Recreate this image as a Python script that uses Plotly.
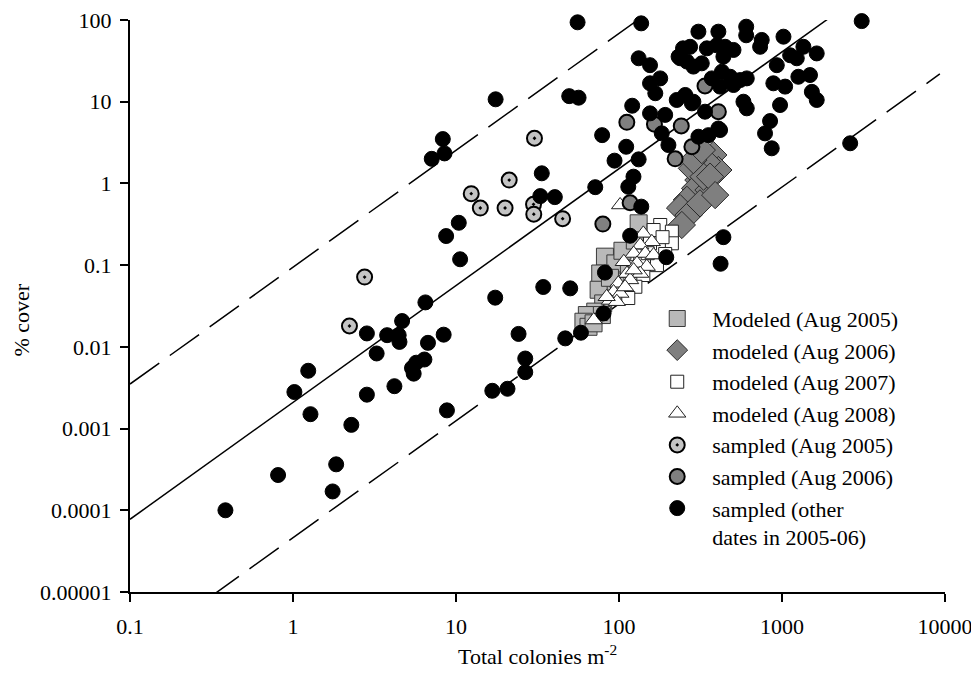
import numpy as np
import plotly.graph_objects as go

# ---------------- data ----------------
mod05_x = [132, 82, 95, 76.7, 95, 75, 80, 71.5, 63.5, 78.5, 60.5, 65, 69.8, 105, 115, 125, 88, 100]
mod05_y = [0.325, 0.127, 0.105, 0.079, 0.063, 0.05, 0.034, 0.027, 0.0245, 0.0245, 0.0203, 0.0176,
           0.0194, 0.15, 0.09, 0.2, 0.07, 0.045]

mod06_x = [379, 407, 346, 307, 280, 293, 354, 261, 237, 267, 243, 314, 330, 286, 362, 322, 389]
mod06_y = [2.23, 1.46, 1.85, 1.1, 1.53, 0.87, 0.83, 0.63, 0.50, 0.41, 0.31, 0.57, 1.21, 1.93, 1.21,
           2.56, 0.72]

mod07_x = [179, 211, 163, 211, 192, 171, 141, 126, 114, 155, 135, 185, 150]
mod07_y = [0.31, 0.257, 0.269, 0.185, 0.137, 0.1, 0.0757, 0.0544, 0.0396, 0.185, 0.109, 0.22, 0.14]

mod08_x = [141, 159, 135, 123, 145, 163, 107, 129, 148, 112, 135, 99, 117, 92.6, 102, 88, 97, 75,
           70, 84, 123, 109, 101.6]
mod08_y = [0.245, 0.193, 0.176, 0.139, 0.139, 0.133, 0.110, 0.105, 0.096, 0.079, 0.079, 0.06, 0.066,
           0.047, 0.045, 0.037, 0.0357, 0.0233, 0.0213, 0.041, 0.087, 0.054, 0.545]

samp05_x = [2.22, 2.75, 12.4, 14.1, 20.0, 21.2, 29.9, 30.0, 30.3, 45.1]
samp05_y = [0.018, 0.0715, 0.75, 0.50, 0.50, 1.1, 0.555, 0.42, 3.57, 0.37]

samp06_x = [79.6, 111.7, 165, 117, 221, 241, 280, 337, 407]
samp06_y = [0.318, 5.6, 5.3, 0.58, 2.0, 5.05, 2.81, 15.6, 7.55]

other_x = [0.385, 0.81, 1.75, 1.84, 2.28, 1.28, 1.02, 1.24, 2.84, 4.19, 8.8, 16.7, 20.7, 26.6, 26.6,
           24.2, 3.26, 5.5, 5.37, 5.7, 6.4, 6.73, 8.4, 2.84, 3.78, 4.45, 4.5, 4.67, 6.49, 8.3, 8.5,
           7.1, 10.4, 8.7, 10.6, 17.4, 34.3, 55.7, 136.8, 17.5, 49.5, 56.5, 78.8, 120.5, 110.7,
           93.9, 132, 33.6, 32.9, 40.4, 71.5, 122.7, 114, 137, 117, 155, 192, 183, 201, 132, 155,
           155, 179, 167, 226, 232, 307, 407, 603, 603, 751, 734, 1021, 1353, 1633, 3083, 2620,
           865, 787, 845, 973, 608, 580, 885, 1045, 1260, 1485, 1525, 1633, 929, 1122, 1232, 247,
           273, 237, 261, 286, 322, 346, 398, 448, 504, 437, 371, 428, 481, 554, 608, 417, 504,
           255, 286, 337, 417, 307, 354, 407, 280, 437, 420, 82, 50.2, 80.4, 58.4, 46.8, 195]
other_y = [0.0001, 0.00027, 0.00017, 0.000365, 0.00111, 0.0015, 0.0028, 0.0051, 0.0026, 0.0033,
           0.00167, 0.0029, 0.00307, 0.0049, 0.0072, 0.0144, 0.0083, 0.0047, 0.0055, 0.0064, 0.0070,
           0.0112, 0.0141, 0.0146, 0.0139, 0.0139, 0.0115, 0.0207, 0.035, 3.49, 2.33, 2.0, 0.33,
           0.227, 0.118, 0.04, 0.054, 93.7, 91, 10.7, 11.7, 11.2, 3.9, 8.93, 2.81, 1.9, 1.97, 1.33,
           0.70, 0.68, 0.90, 1.21, 0.91, 0.52, 0.229, 7.2, 6.9, 4.1, 2.95, 34, 28, 16.8, 19.3,
           12.7, 10.5, 35.6, 72, 72, 82.8, 65, 57, 47, 62.5, 47, 39, 97, 3.1, 2.69, 4.1, 5.8, 9.1,
           8.3, 10, 16.8, 15.3, 20.2, 21.2, 13.2, 10.5, 28, 37, 34, 45, 47, 34, 31, 26.9, 29.5, 45,
           49, 47, 43, 35.6, 19.3, 23.3, 20.2, 18.4, 19.3, 15.3, 16, 12.1, 10, 7.55, 4.5, 3.73,
           3.9, 4.7, 9.55, 0.22, 0.104, 0.081, 0.052, 0.0257, 0.0149, 0.0127, 0.125]

# fitted relationship (log10 y = a + b log10 x) and its band
fit_intercept = -2.68
fit_slope = 1.43
fit_band = 1.655
line_x = [0.1, 9300]

x_tickvals = [0.1, 1, 10, 100, 1000, 10000]
x_ticktext = ["0.1", "1", "10", "100", "1000", "10000"]
y_tickvals = [0.00001, 0.0001, 0.001, 0.01, 0.1, 1, 10, 100]
y_ticktext = ["0.00001", "0.0001", "0.001", "0.01", "0.1", "1", "10", "100"]

FONT = "Liberation Serif, Times New Roman, Tinos, DejaVu Serif, serif"

# ---------------- figure ----------------
fig = go.Figure()

lx = np.array(line_x, dtype=float)
for off, dash in [(0.0, "solid"), (fit_band, "36px,13px"), (-fit_band, "36px,13px")]:
    ly = 10 ** (fit_intercept + off + fit_slope * np.log10(lx))
    fig.add_trace(go.Scatter(x=lx, y=ly, mode="lines", showlegend=False, hoverinfo="skip",
                             line=dict(color="black", width=1.5, dash=dash)))

marker_traces = [
    (mod05_x, mod05_y, "Modeled (Aug 2005)", "a",
     dict(symbol="square", size=17, color="#b9b9b9", line=dict(color="#3a3a3a", width=1))),
    (mod06_x, mod06_y, "modeled (Aug 2006)", "b",
     dict(symbol="diamond", size=21, color="#7f7f7f", line=dict(color="#2a2a2a", width=1))),
    (mod07_x, mod07_y, "modeled (Aug 2007)", "c",
     dict(symbol="square", size=13, color="white", line=dict(color="#222222", width=1))),
    (mod08_x, mod08_y, "modeled (Aug 2008)", "d",
     dict(symbol="triangle-up", size=15, color="white", line=dict(color="#222222", width=1))),
    (samp05_x, samp05_y, "sampled (Aug 2005)", "e",
     dict(symbol="circle-dot", size=15, color="#c4c4c4", line=dict(color="black", width=2))),
    (samp06_x, samp06_y, "sampled (Aug 2006)", "f",
     dict(symbol="circle", size=15, color="#808080", line=dict(color="black", width=2))),
    (other_x, other_y, "sampled (other<br>dates in 2005-06)", "g",
     dict(symbol="circle", size=15, color="black", line=dict(color="black", width=1))),
]
for xs, ys, name, grp, mk in marker_traces:
    fig.add_trace(go.Scatter(x=xs, y=ys, mode="markers", name=name, legendgroup=grp,
                             cliponaxis=False, marker=mk))

axis_common = dict(type="log", ticks="outside", ticklen=8, tickwidth=1.5, tickcolor="black",
                   showline=True, linewidth=2, linecolor="black", showgrid=False,
                   zeroline=False, automargin=False, ticklabeloverflow="allow",
                   tickfont=dict(family=FONT, size=22, color="black"))

fig.update_xaxes(range=[-1, 4], tickvals=x_tickvals, ticktext=x_ticktext,
                 ticklabelstandoff=6, **axis_common)
fig.update_yaxes(range=[-5, 2], tickvals=y_tickvals, ticktext=y_ticktext,
                 ticklabelstandoff=4, **axis_common)

fig.add_annotation(text="% cover", textangle=-90, xref="paper", yref="paper",
                   x=(20 - 129.5) / 815.5, y=(592 - 320) / 572, xanchor="center",
                   yanchor="middle", showarrow=False,
                   font=dict(family=FONT, size=22, color="black"))
fig.add_annotation(text="Total colonies m<sup>-2</sup>", xref="paper", yref="paper",
                   x=(537 - 129.5) / 815.5, y=-(655 - 592) / 572, xanchor="center",
                   yanchor="middle", showarrow=False,
                   font=dict(family=FONT, size=22, color="black"))

# the page body adds an 8px offset, so the figure is 8px smaller with shifted margins
fig.update_layout(
    width=971, height=680,
    margin=dict(l=122, r=34, t=12, b=96),
    plot_bgcolor="white", paper_bgcolor="white",
    legend=dict(x=0.6285, y=0.5145, xanchor="left", yanchor="top", itemwidth=60,
                font=dict(family=FONT, size=22, color="black"),
                bgcolor="rgba(0,0,0,0)", tracegroupgap=0, valign="top"),
)

fig.write_html("out.html")
